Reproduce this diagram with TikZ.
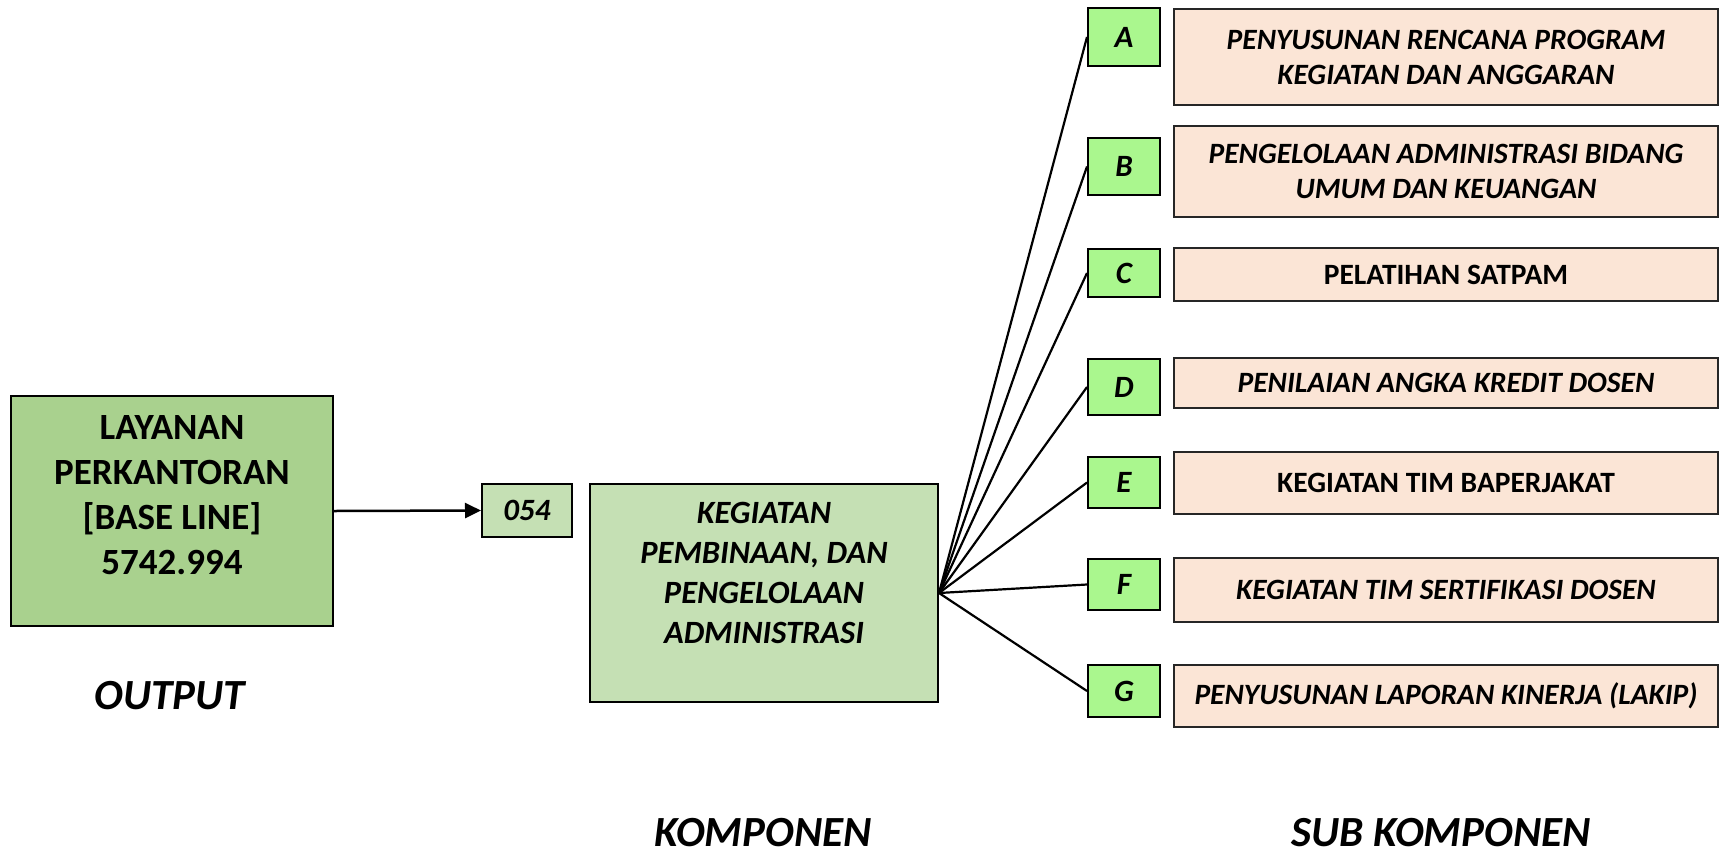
\documentclass[tikz,border=0pt]{standalone}
\usepackage{fontspec}
\setmainfont{Carlito}
\usetikzlibrary{arrows.meta}
\definecolor{outg}{HTML}{A9D18E}
\definecolor{komg}{HTML}{C5E0B4}
\definecolor{letg}{HTML}{AAF78E}
\definecolor{pinkb}{HTML}{FBE5D6}
\begin{document}
\begin{tikzpicture}[x=1pt,y=-1pt,
  box/.style={draw=black, line width=2pt, inner sep=0pt, align=center},
  outbox/.style={box, fill=outg, minimum width=322pt, minimum height=230pt},
  kombox/.style={box, fill=komg},
  letbox/.style={box, fill=letg, minimum width=72pt, font=\fontsize{31}{33}\selectfont\bfseries\itshape},
  subbox/.style={box, draw=black!85, fill=pinkb, minimum width=544pt},
  subit/.style={font=\fontsize{29.5}{35}\selectfont\bfseries\itshape},
  subup/.style={font=\fontsize{29.5}{35}\selectfont\bfseries},
  biglabel/.style={font=\fontsize{43}{46}\selectfont\bfseries\itshape, anchor=base, inner sep=0pt},
  conn/.style={line width=2.2pt}
]
\useasboundingbox (0,0) rectangle (1721,857);
% output
\node[outbox] (out) at (172,511) {};
\node[font=\fontsize{37}{45}\selectfont\bfseries, align=center] (outtxt) at ([yshift=16pt]out.center) {LAYANAN\\PERKANTORAN\\{[BASE LINE]}\\5742.994};
\node[kombox, minimum width=90pt, minimum height=53pt, font=\fontsize{31}{33}\selectfont\bfseries\itshape] (code) at (527,510.5) {054};
\node[kombox, minimum width=348pt, minimum height=218pt] (kom) at (764,593) {};
\node[font=\fontsize{32.5}{40}\selectfont\bfseries\itshape, align=center] (komtxt) at ([yshift=20pt]kom.center) {KEGIATAN\\PEMBINAAN, DAN\\PENGELOLAAN\\ADMINISTRASI};
\draw[line width=2.5pt, -{Triangle[length=16pt,width=15pt]}] (out.east) -- (code.west);
% letters
\node[letbox, minimum height=58pt] (la) at (1124,37) {A};
\node[letbox, minimum height=57pt] (lb) at (1124,166.5) {B};
\node[letbox, minimum height=48pt] (lc) at (1124,273) {C};
\node[letbox, minimum height=56pt] (ld) at (1124,387) {D};
\node[letbox, minimum height=51pt] (le) at (1124,482.5) {E};
\node[letbox, minimum height=51pt] (lf) at (1124,584.5) {F};
\node[letbox, minimum height=52pt] (lg) at (1124,691) {G};
% sub boxes
\node[subbox, minimum height=96pt, subit] (sa) at (1446,57) {PENYUSUNAN RENCANA PROGRAM\\KEGIATAN DAN ANGGARAN};
\node[subbox, minimum height=91pt, subit] (sb) at (1446,171.5) {PENGELOLAAN ADMINISTRASI BIDANG\\UMUM DAN KEUANGAN};
\node[subbox, minimum height=53pt, subup] (sc) at (1446,274.5) {PELATIHAN SATPAM};
\node[subbox, minimum height=50pt, subit] (sd) at (1446,383) {PENILAIAN ANGKA KREDIT DOSEN};
\node[subbox, minimum height=62pt, subup] (se) at (1446,483) {KEGIATAN TIM BAPERJAKAT};
\node[subbox, minimum height=64pt, subit] (sf) at (1446,590) {KEGIATAN TIM SERTIFIKASI DOSEN};
\node[subbox, minimum height=62pt, subit] (sg) at (1446,696) {PENYUSUNAN LAPORAN KINERJA (LAKIP)};
% connectors
\foreach \l in {la,lb,lc,ld,le,lf,lg}
  \draw[conn] (kom.east) -- (\l.west);
% labels
\node[biglabel] (lout) at (170,709) {OUTPUT};
\node[biglabel] (lkom) at (763,846) {KOMPONEN};
\node[biglabel] (lsub) at (1441,846) {SUB KOMPONEN};
\end{tikzpicture}
\end{document}
